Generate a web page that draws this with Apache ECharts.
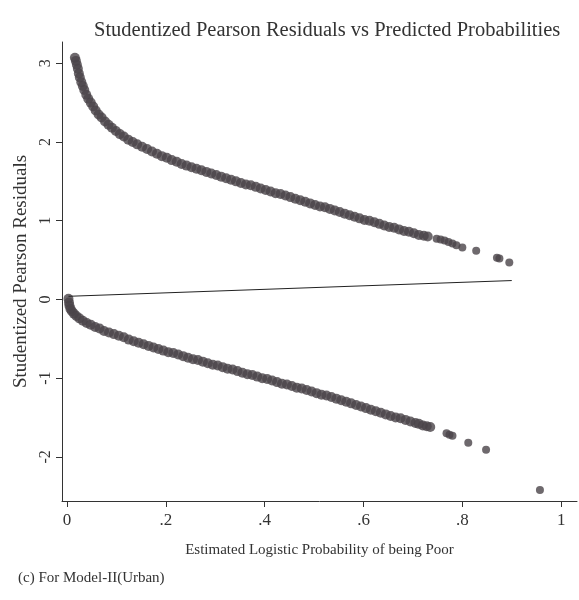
<!DOCTYPE html>
<html>
<head>
<meta charset="utf-8">
<script src="https://cdn.jsdelivr.net/npm/echarts@6/dist/echarts.min.js"></script>
<style>
html, body { margin: 0; padding: 0; background: #fff; }
#chart { width: 579px; height: 600px; }
</style>
</head>
<body>
<div id="chart"></div>
<script>
// upper branch (observed = 1): predicted probability / residual
var upperP = [0.016, 0.018, 0.020, 0.022, 0.024, 0.026, 0.029, 0.032, 0.035, 0.039,
  0.043, 0.048, 0.053, 0.058, 0.064, 0.070, 0.077, 0.084, 0.091, 0.099,
  0.107, 0.115, 0.124, 0.133, 0.142, 0.152, 0.162, 0.172, 0.182, 0.192,
  0.202, 0.212, 0.222, 0.232, 0.242, 0.252, 0.262, 0.272, 0.282, 0.292,
  0.302, 0.312, 0.322, 0.332, 0.342, 0.352, 0.362, 0.372, 0.382, 0.392,
  0.402, 0.412, 0.422, 0.432, 0.442, 0.452, 0.462, 0.472, 0.482, 0.492,
  0.502, 0.512, 0.522, 0.532, 0.542, 0.552, 0.562, 0.572, 0.582, 0.592,
  0.602, 0.612, 0.622, 0.632, 0.642, 0.652, 0.662, 0.672, 0.682, 0.692,
  0.702, 0.712, 0.722, 0.730, 0.748, 0.756, 0.764, 0.772, 0.780, 0.788,
  0.800, 0.828, 0.870, 0.875, 0.895];
var upperR = [3.07, 3.03, 2.98, 2.93, 2.87, 2.82, 2.76, 2.71, 2.66, 2.60,
  2.55, 2.50, 2.45, 2.40, 2.35, 2.31, 2.26, 2.22, 2.18, 2.14,
  2.10, 2.07, 2.03, 2.00, 1.97, 1.94, 1.91, 1.88, 1.85, 1.82,
  1.80, 1.77, 1.75, 1.72, 1.70, 1.68, 1.66, 1.64, 1.62, 1.60,
  1.58, 1.56, 1.54, 1.52, 1.50, 1.48, 1.46, 1.45, 1.43, 1.41,
  1.39, 1.37, 1.35, 1.34, 1.32, 1.30, 1.28, 1.26, 1.24, 1.22,
  1.20, 1.18, 1.17, 1.15, 1.13, 1.11, 1.09, 1.07, 1.05, 1.03,
  1.01, 1.00, 0.98, 0.96, 0.94, 0.92, 0.91, 0.89, 0.87, 0.86,
  0.84, 0.82, 0.81, 0.80, 0.77, 0.76, 0.75, 0.73, 0.71, 0.69,
  0.66, 0.62, 0.53, 0.52, 0.47];

// lower branch (observed = 0)
var lowerP = [0.003, 0.004, 0.005, 0.007, 0.010, 0.014, 0.019, 0.025, 0.032, 0.040,
  0.048, 0.057, 0.066, 0.075, 0.085, 0.095, 0.105, 0.115, 0.125, 0.135,
  0.145, 0.155, 0.165, 0.175, 0.185, 0.195, 0.205, 0.215, 0.225, 0.235,
  0.245, 0.255, 0.265, 0.275, 0.285, 0.295, 0.305, 0.315, 0.325, 0.335,
  0.345, 0.355, 0.365, 0.375, 0.385, 0.395, 0.405, 0.415, 0.425, 0.435,
  0.445, 0.455, 0.465, 0.475, 0.485, 0.495, 0.505, 0.515, 0.525, 0.535,
  0.545, 0.555, 0.565, 0.575, 0.585, 0.595, 0.605, 0.615, 0.625, 0.635,
  0.645, 0.655, 0.665, 0.675, 0.685, 0.695, 0.705, 0.712, 0.720, 0.728,
  0.735, 0.768, 0.774, 0.780, 0.812, 0.848, 0.957];
var lowerR = [0.01, -0.04, -0.08, -0.12, -0.15, -0.18, -0.21, -0.24, -0.27, -0.30,
  -0.32, -0.35, -0.37, -0.40, -0.42, -0.44, -0.46, -0.48, -0.51, -0.53,
  -0.55, -0.57, -0.59, -0.61, -0.63, -0.65, -0.67, -0.68, -0.70, -0.72,
  -0.74, -0.76, -0.77, -0.79, -0.81, -0.83, -0.84, -0.86, -0.88, -0.89,
  -0.91, -0.93, -0.95, -0.96, -0.98, -1.00, -1.01, -1.03, -1.05, -1.07,
  -1.08, -1.10, -1.12, -1.13, -1.15, -1.17, -1.19, -1.21, -1.22, -1.24,
  -1.26, -1.28, -1.30, -1.32, -1.34, -1.36, -1.38, -1.40, -1.42, -1.44,
  -1.46, -1.48, -1.50, -1.51, -1.53, -1.55, -1.57, -1.58, -1.60, -1.61,
  -1.62, -1.70, -1.72, -1.73, -1.82, -1.91, -2.42];

// fitted line
var lineP = [0.003, 0.900];
var lineR = [0.04, 0.24];

var xTicks = [0, 0.2, 0.4, 0.6, 0.8, 1];
var yTicks = [-2, -1, 0, 1, 2, 3];

function zip(a, b) {
  var out = [];
  for (var i = 0; i < a.length; i++) out.push([a[i], b[i]]);
  return out;
}

var serif = 'Liberation Serif';
var ink = '#333';
var dotColor = '#4a4448';

// dense part of the band drawn with larger dots, isolated tail points smaller
function dotSize(v) {
  return v[0] > 0.74 ? 8 : 10;
}

var chart = echarts.init(document.getElementById('chart'), null, {renderer: 'canvas'});
chart.setOption({
  animation: false,
  backgroundColor: '#fff',
  title: {
    text: 'Studentized Pearson Residuals vs Predicted Probabilities',
    left: 89,
    top: 15,
    textStyle: {fontFamily: serif, fontWeight: 'normal', fontSize: 20.5, color: ink}
  },
  graphic: [{
    type: 'text',
    left: 18,
    top: 571,
    style: {text: '(c) For Model-II(Urban)', font: '15px "Liberation Serif"', fill: ink}
  }],
  grid: {left: 62, right: 2, top: 42, bottom: 99},
  xAxis: {
    type: 'value',
    min: -0.0101,
    max: 1.032,
    name: 'Estimated Logistic Probability of being Poor',
    nameLocation: 'middle',
    nameGap: 42,
    nameTextStyle: {fontFamily: serif, fontSize: 15, color: ink},
    splitLine: {show: false},
    axisLine: {onZero: false, lineStyle: {color: ink, width: 1}},
    axisTick: {show: true, length: 6, customValues: xTicks, lineStyle: {color: ink}},
    axisLabel: {
      customValues: xTicks,
      margin: 11,
      fontFamily: serif, fontSize: 17, color: ink,
      formatter: function (v) {
        if (v === 0) return '0';
        if (v === 1) return '1';
        return String(v).replace(/^0/, '');
      }
    }
  },
  yAxis: {
    type: 'value',
    min: -2.56,
    max: 3.27,
    name: 'Studentized Pearson Residuals',
    nameLocation: 'middle',
    nameGap: 30,
    nameTextStyle: {fontFamily: serif, fontSize: 19, color: ink},
    splitLine: {show: false},
    axisLine: {show: true, onZero: false, lineStyle: {color: ink, width: 1}},
    axisTick: {show: true, length: 6, customValues: yTicks, lineStyle: {color: ink}},
    axisLabel: {
      customValues: yTicks,
      rotate: 90,
      margin: 8,
      fontFamily: serif, fontSize: 16, color: ink
    }
  },
  series: [
    {
      type: 'scatter',
      data: zip(upperP, upperR),
      symbolSize: dotSize,
      itemStyle: {color: dotColor}
    },
    {
      type: 'scatter',
      data: zip(lowerP, lowerR),
      symbolSize: dotSize,
      itemStyle: {color: dotColor}
    },
    {
      type: 'line',
      data: zip(lineP, lineR),
      symbol: 'none',
      lineStyle: {color: '#222', width: 1}
    }
  ]
});
</script>
</body>
</html>
